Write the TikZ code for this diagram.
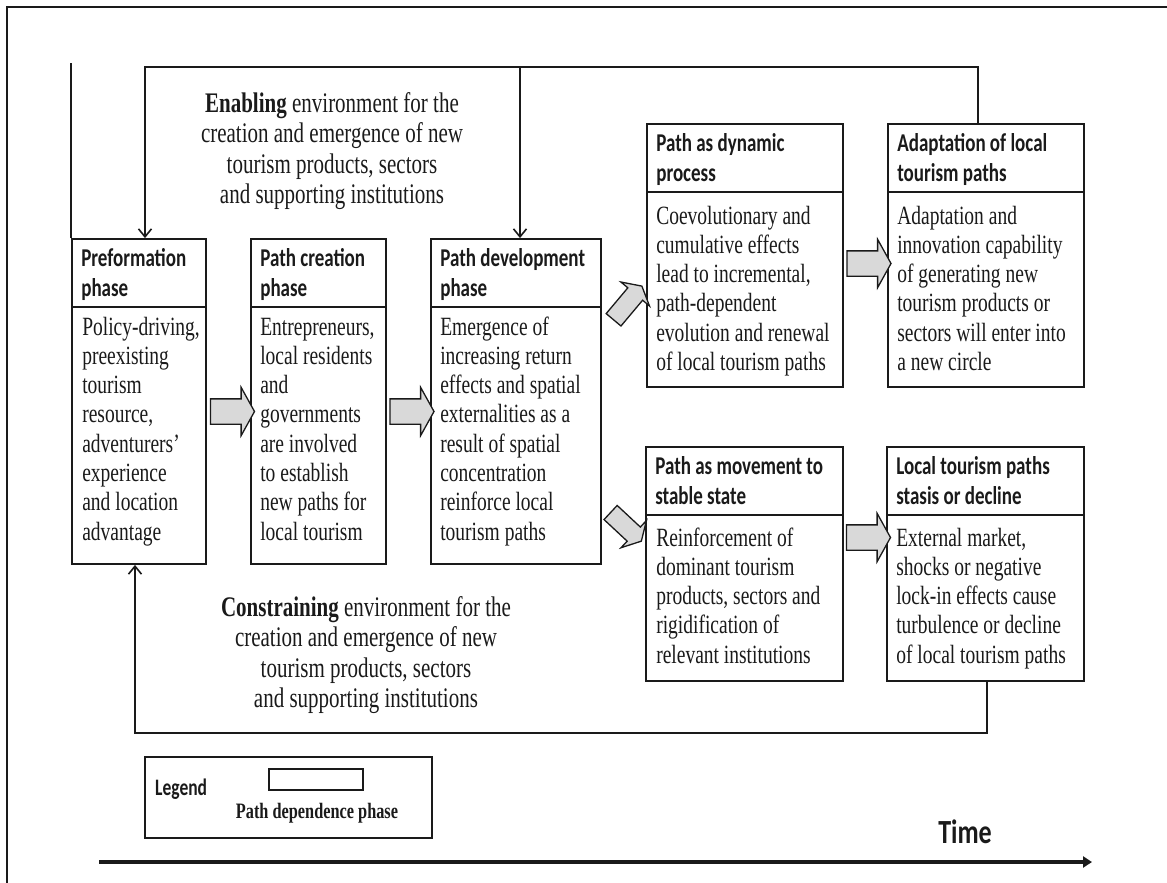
\documentclass[tikz,border=0pt]{standalone}
\usepackage{fontspec}
\setmainfont{Liberation Serif}
\newfontfamily\titlefont{Carlito}
\usepackage{graphicx}
\usetikzlibrary{shapes.arrows,arrows.meta,calc}
\definecolor{ink}{HTML}{1A1A1A}
\definecolor{agray}{HTML}{D9D9D9}
\newcommand\vst[1]{\scalebox{1}[1.35]{#1}}
\newcommand\ttl[1]{\vst{\titlefont\bfseries\fontsize{19}{22.4}\selectfont\begin{tabular}[t]{@{}l@{}}#1\end{tabular}}}
\newcommand\bdy[1]{\vst{\fontsize{19.5}{21.7}\selectfont\begin{tabular}[t]{@{}l@{}}#1\end{tabular}}}
\newcommand\env[1]{\vst{\fontsize{21}{22.7}\selectfont\begin{tabular}[t]{@{}c@{}}#1\end{tabular}}}
\tikzset{
  box/.style={draw=ink, line width=1.8pt, inner sep=0pt, fill=white},
  divider/.style={draw=ink, line width=1.8pt},
  txt/.style={anchor=base west, inner sep=0pt, text=ink},
  conn/.style={draw=ink, line width=1.6pt, -{Straight Barb[length=8pt,width=13pt]}},
  plain/.style={draw=ink, line width=1.6pt},
  fat/.style={single arrow, draw=ink, fill=agray, line width=1.3pt, inner xsep=0pt, inner ysep=12pt,
    single arrow head extend=11.5pt, single arrow tip angle=122, minimum height=44pt},
  fatsmall/.style={fat, inner ysep=9pt, single arrow head extend=9pt},
}
\begin{document}
\begin{tikzpicture}[x=1pt,y=-1pt]
\useasboundingbox (0,0) rectangle (1167,883);
% outer frame
\coordinate (fb) at (7,883);
\coordinate (fc) at (7,7);
\coordinate (fr) at (1167,7);
\draw[draw=ink, line width=1.3pt] (fb) -- (fc) -- (fr);

% boxes
\node[box, minimum width=134pt, minimum height=325pt] (b1) at (139,401.5) {};
\node[box, minimum width=135pt, minimum height=325pt] (b2) at (318.5,401.5) {};
\node[box, minimum width=170pt, minimum height=325pt] (b3) at (516,401.5) {};
\node[box, minimum width=196pt, minimum height=263pt] (b4) at (745,255.5) {};
\node[box, minimum width=196pt, minimum height=263pt] (b5) at (986,255.5) {};
\node[box, minimum width=197pt, minimum height=234pt] (b6) at (744.5,564) {};
\node[box, minimum width=197pt, minimum height=234pt] (b7) at (985.5,564) {};
\foreach \b in {b1,b2,b3,b4,b5,b6,b7}{
  \draw[divider] ([yshift=-69pt]\b.north west) -- ([yshift=-69pt]\b.north east);
}

% titles
\node[txt] (h1) at ($(b1.north west)+(10,28)$) {\ttl{Preformation\\phase}};
\node[txt] (h2) at ($(b2.north west)+(10,28)$) {\ttl{Path creation\\phase}};
\node[txt] (h3) at ($(b3.north west)+(10,28)$) {\ttl{Path development\\phase}};
\node[txt] (h4) at ($(b4.north west)+(10,28)$) {\ttl{Path as dynamic\\process}};
\node[txt] (h5) at ($(b5.north west)+(10,28)$) {\ttl{Adaptation of local\\tourism paths}};
\node[txt] (h6) at ($(b6.north west)+(10,28)$) {\ttl{Path as movement to\\stable state}};
\node[txt] (h7) at ($(b7.north west)+(10,28)$) {\ttl{Local tourism paths\\stasis or decline}};

% bodies
\node[txt] (x1) at ($(b1.north west)+(11,97)$) {\bdy{Policy-driving,\\preexisting\\tourism\\resource,\\adventurers'\\experience\\and location\\advantage}};
\node[txt] (x2) at ($(b2.north west)+(10,97)$) {\bdy{Entrepreneurs,\\local residents\\and\\governments\\are involved\\to establish\\new paths for\\local tourism}};
\node[txt] (x3) at ($(b3.north west)+(10,97)$) {\bdy{Emergence of\\increasing return\\effects and spatial\\externalities as a\\result of spatial\\concentration\\reinforce local\\tourism paths}};
\node[txt] (x4) at ($(b4.north west)+(10,101)$) {\bdy{Coevolutionary and\\cumulative effects\\lead to incremental,\\path-dependent\\evolution and renewal\\of local tourism paths}};
\node[txt] (x5) at ($(b5.north west)+(10,101)$) {\bdy{Adaptation and\\innovation capability\\of generating new\\tourism products or\\sectors will enter into\\a new circle}};
\node[txt] (x6) at ($(b6.north west)+(11,100)$) {\bdy{Reinforcement of\\dominant tourism\\products, sectors and\\rigidification of\\relevant institutions}};
\node[txt] (x7) at ($(b7.north west)+(10,100)$) {\bdy{External market,\\shocks or negative\\lock-in effects cause\\turbulence or decline\\of local tourism paths}};

% environment texts
\node[anchor=base, inner sep=0pt, text=ink] (en) at (332,112) {\env{\textbf{Enabling} environment for the\\creation and emergence of new\\tourism products, sectors\\and supporting institutions}};
\node[anchor=base, inner sep=0pt, text=ink] (co) at (366,616) {\env{\textbf{Constraining} environment for the\\creation and emergence of new\\tourism products, sectors\\and supporting institutions}};

% fat arrows
\node[fat] (f12) at (229,411.5) {};
\node[fat] (f23) at (408.5,411.5) {};
\node[fat] (f45) at (865.5,263.5) {};
\node[fat] (f67) at (865,537.5) {};
\node[fatsmall, minimum height=44pt, rotate=50] (f34) at (626,305) {};
\node[fatsmall, minimum height=42pt, rotate=-43] (f36) at (624,525) {};

% enabling loop
\coordinate (tl) at (145,67);
\coordinate (tm) at (520,67);
\coordinate (lt) at (0,63);
\draw[conn] ([xshift=-8pt]b5.north) |- (tl) -- (tl |- b1.north);
\draw[conn] (tm) -- (tm |- b3.north);
\draw[plain] (b1.north west) -- (b1.north west |- lt);

% constraining loop
\coordinate (bl) at (135,733);
\draw[conn] ([xshift=1.5pt]b7.south) |- (bl) -- (bl |- b1.south);

% legend
\node[draw=ink, line width=1.5pt, minimum width=287pt, minimum height=81pt, inner sep=0pt] (lg) at (288.5,797.5) {};
\node[draw=ink, line width=1.5pt, minimum width=94pt, minimum height=21pt, inner sep=0pt] (lr) at (316,779.5) {};
\node[anchor=base west, inner sep=0pt, text=ink] (lt1) at (155,795) {\vst{\titlefont\bfseries\fontsize{17.5}{20}\selectfont Legend}};
\node[anchor=base, inner sep=0pt, text=ink] (lt2) at (317,818) {\vst{\bfseries\fontsize{16.3}{19}\selectfont Path dependence phase}};

% time axis
\coordinate (ts) at (99,862);
\coordinate (te) at (1092,862);
\draw[draw=ink, line width=3.5pt, -{Triangle[length=9pt,width=11pt]}] (ts) -- (te);
\node[anchor=base, inner sep=0pt, text=ink] (tt) at (965,843) {\scalebox{1}[1.3]{\titlefont\bfseries\fontsize{26}{30}\selectfont Time}};
\end{tikzpicture}
\end{document}
